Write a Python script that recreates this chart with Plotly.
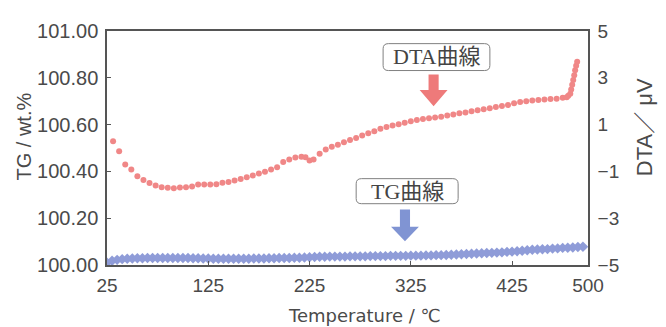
import plotly.graph_objects as go

# ---------------- data ----------------
dta_temp = [31, 37, 43, 49, 55, 61, 67, 73, 79, 85, 91, 97, 103, 109, 115, 121, 127, 133,
            139, 145, 151, 157, 163, 169, 175, 181, 187, 193, 199, 205, 211, 217, 221, 225,
            229, 235, 241, 247, 253, 259, 265, 271, 277, 283, 289, 295, 301, 307, 313, 319,
            325, 331, 337, 343, 349, 355, 361, 367, 373, 379, 385, 391, 397, 403, 409, 415,
            421, 427, 433, 439, 445, 451, 457, 463, 469, 475, 479, 480.5, 482.5, 483.4, 484.4,
            485.4, 486.4, 487.3, 488.3, 489.3]
dta_val = [0.29, -0.14, -0.70, -0.92, -1.21, -1.37, -1.50, -1.60, -1.68, -1.70, -1.72, -1.69,
           -1.68, -1.64, -1.56, -1.56, -1.56, -1.55, -1.48, -1.45, -1.39, -1.32, -1.25, -1.17,
           -1.09, -1.02, -0.92, -0.82, -0.60, -0.49, -0.41, -0.37, -0.40, -0.53, -0.49, -0.25,
           -0.06, 0.05, 0.14, 0.25, 0.34, 0.43, 0.53, 0.63, 0.72, 0.82, 0.90, 0.96, 1.02, 1.08,
           1.14, 1.20, 1.24, 1.27, 1.30, 1.34, 1.39, 1.43, 1.48, 1.52, 1.57, 1.61, 1.66, 1.70,
           1.75, 1.79, 1.84, 1.91, 1.97, 2.00, 2.03, 2.05, 2.07, 2.09, 2.11, 2.15, 2.17, 2.23,
           2.32, 2.50, 2.70, 2.91, 3.11, 3.32, 3.52, 3.69]

tg_temp = list(range(25, 500, 5))
tg_val = [100.010, 100.018, 100.022, 100.025, 100.027, 100.028, 100.029, 100.029, 100.030,
          100.030, 100.030, 100.030, 100.030, 100.030, 100.030, 100.030, 100.030, 100.029,
          100.029, 100.028, 100.028, 100.027, 100.027, 100.027, 100.027, 100.027, 100.027,
          100.027, 100.027, 100.028, 100.028, 100.028, 100.029, 100.029, 100.030, 100.030,
          100.030, 100.031, 100.031, 100.032, 100.033, 100.034, 100.035, 100.035, 100.036,
          100.036, 100.036, 100.036, 100.037, 100.037, 100.037, 100.037, 100.038, 100.038,
          100.038, 100.038, 100.039, 100.039, 100.039, 100.039, 100.040, 100.040, 100.040,
          100.041, 100.041, 100.042, 100.042, 100.043, 100.044, 100.045, 100.046, 100.047,
          100.048, 100.049, 100.050, 100.051, 100.052, 100.053, 100.054, 100.056, 100.057,
          100.059, 100.061, 100.063, 100.065, 100.066, 100.067, 100.068, 100.070, 100.071,
          100.073, 100.074, 100.075, 100.077, 100.078]

x_ticks = [25, 125, 225, 325, 425, 500]
tg_ticks = [100.0, 100.2, 100.4, 100.6, 100.8, 101.0]
dta_ticks = [-5, -3, -1, 1, 3, 5]
dta_ticktext = ["\u22125", "\u22123", "\u22121", "1", "3", "5"]

# ---------------- styling ----------------
RED = "#f08787"
BLUE = "#8f9cd8"
RED_ARROW = "#ee7a7a"
BLUE_ARROW = "#8094d3"
TXT = "#4a4a4a"
AX = "#555555"
SANS = "Liberation Sans, Arial, sans-serif"
WIDE = "DejaVu Sans, sans-serif"
SERIF = "Liberation Serif, 'Noto Sans CJK JP', serif"
YTITLE = "Liberation Sans, 'Noto Sans CJK JP', sans-serif"

fig = go.Figure()
fig.add_trace(go.Scatter(x=tg_temp, y=tg_val, mode="markers", yaxis="y",
                         marker=dict(symbol="diamond", size=8, color=BLUE),
                         name="TG", showlegend=False))
fig.add_trace(go.Scatter(x=dta_temp, y=dta_val, mode="markers", yaxis="y2",
                         marker=dict(symbol="circle", size=6, color=RED),
                         name="DTA", showlegend=False))


def rrect(x0, y0, x1, y1, rx=0.011, ry=0.022):
    return (f"M{x0+rx},{y0} L{x1-rx},{y0} Q{x1},{y0} {x1},{y0+ry} "
            f"L{x1},{y1-ry} Q{x1},{y1} {x1-rx},{y1} L{x0+rx},{y1} "
            f"Q{x0},{y1} {x0},{y1-ry} L{x0},{y0+ry} Q{x0},{y0} {x0+rx},{y0} Z")


def block_arrow(cx, ytop, yhead, ytip, sw=0.0105, hw=0.029):
    return (f"M{cx-sw},{ytop} L{cx+sw},{ytop} L{cx+sw},{yhead} L{cx+hw},{yhead} "
            f"L{cx},{ytip} L{cx-hw},{yhead} L{cx-sw},{yhead} Z")


shapes = [
    dict(type="path", xref="paper", yref="paper", path=rrect(0.574, 0.831, 0.796, 0.946),
         line=dict(color="#808080", width=1), fillcolor="white", layer="above"),
    dict(type="path", xref="paper", yref="paper", path=rrect(0.518, 0.262, 0.730, 0.369),
         line=dict(color="#808080", width=1), fillcolor="white", layer="above"),
    dict(type="path", xref="paper", yref="paper", path=block_arrow(0.679, 0.814, 0.748, 0.678),
         line=dict(width=0), fillcolor=RED_ARROW, layer="above"),
    dict(type="path", xref="paper", yref="paper", path=block_arrow(0.6195, 0.237, 0.163, 0.101),
         line=dict(width=0), fillcolor=BLUE_ARROW, layer="above"),
]

annotations = [
    dict(text="DTA曲線", xref="paper", yref="paper", x=0.685, y=0.889, showarrow=False,
         font=dict(family=SERIF, size=22, color="#444"), xanchor="center", yanchor="middle"),
    dict(text="TG曲線", xref="paper", yref="paper", x=0.624, y=0.316, showarrow=False,
         font=dict(family=SERIF, size=22, color="#444"), xanchor="center", yanchor="middle"),
    dict(text="TG / wt.%", xref="paper", yref="paper", x=-0.172, y=0.55, showarrow=False,
         textangle=-90, font=dict(family=SANS, size=20, color=TXT),
         xanchor="center", yanchor="middle"),
    dict(text="DTA／ μV", xref="paper", yref="paper", x=1.118, y=0.588, showarrow=False,
         textangle=-90, font=dict(family=YTITLE, size=22, color=TXT),
         xanchor="center", yanchor="middle"),
    dict(text="Temperature / ℃", xref="paper", yref="paper", x=0.535, y=-0.216,
         showarrow=False, font=dict(family=WIDE, size=18, color=TXT),
         xanchor="center", yanchor="middle"),
]

# The page body keeps the browser's default 8px margin, so the figure is
# sized 8px smaller and its margins shifted so the plot lands where the
# reference's plot area is.
fig.update_layout(
    width=658, height=319, autosize=False,
    margin=dict(l=99, r=78, t=14, b=62, pad=0),
    paper_bgcolor="white", plot_bgcolor="white",
    xaxis=dict(range=[25, 500], tickvals=x_ticks, ticks="inside", ticklen=4,
               tickcolor=AX, showline=True, linecolor=AX, linewidth=1.5, mirror=True,
               showgrid=False, zeroline=False, ticklabelstandoff=2,
               tickfont=dict(family=SANS, size=19, color=TXT)),
    yaxis=dict(range=[100, 101], tickvals=tg_ticks, tickformat=".2f", ticks="inside",
               ticklen=4, tickcolor=AX, showline=True, linecolor=AX, linewidth=1.5,
               mirror=True, showgrid=False, zeroline=False, ticklabelstandoff=3,
               tickfont=dict(family=SANS, size=20, color=TXT)),
    yaxis2=dict(range=[-5, 5], tickvals=dta_ticks, ticktext=dta_ticktext, overlaying="y",
                side="right", ticks="", showline=True, linecolor=AX, linewidth=1.5,
                showgrid=False, zeroline=False, ticklabelstandoff=4,
                tickfont=dict(family=SANS, size=19, color=TXT)),
    shapes=shapes,
    annotations=annotations,
)

fig.write_html("out.html")
